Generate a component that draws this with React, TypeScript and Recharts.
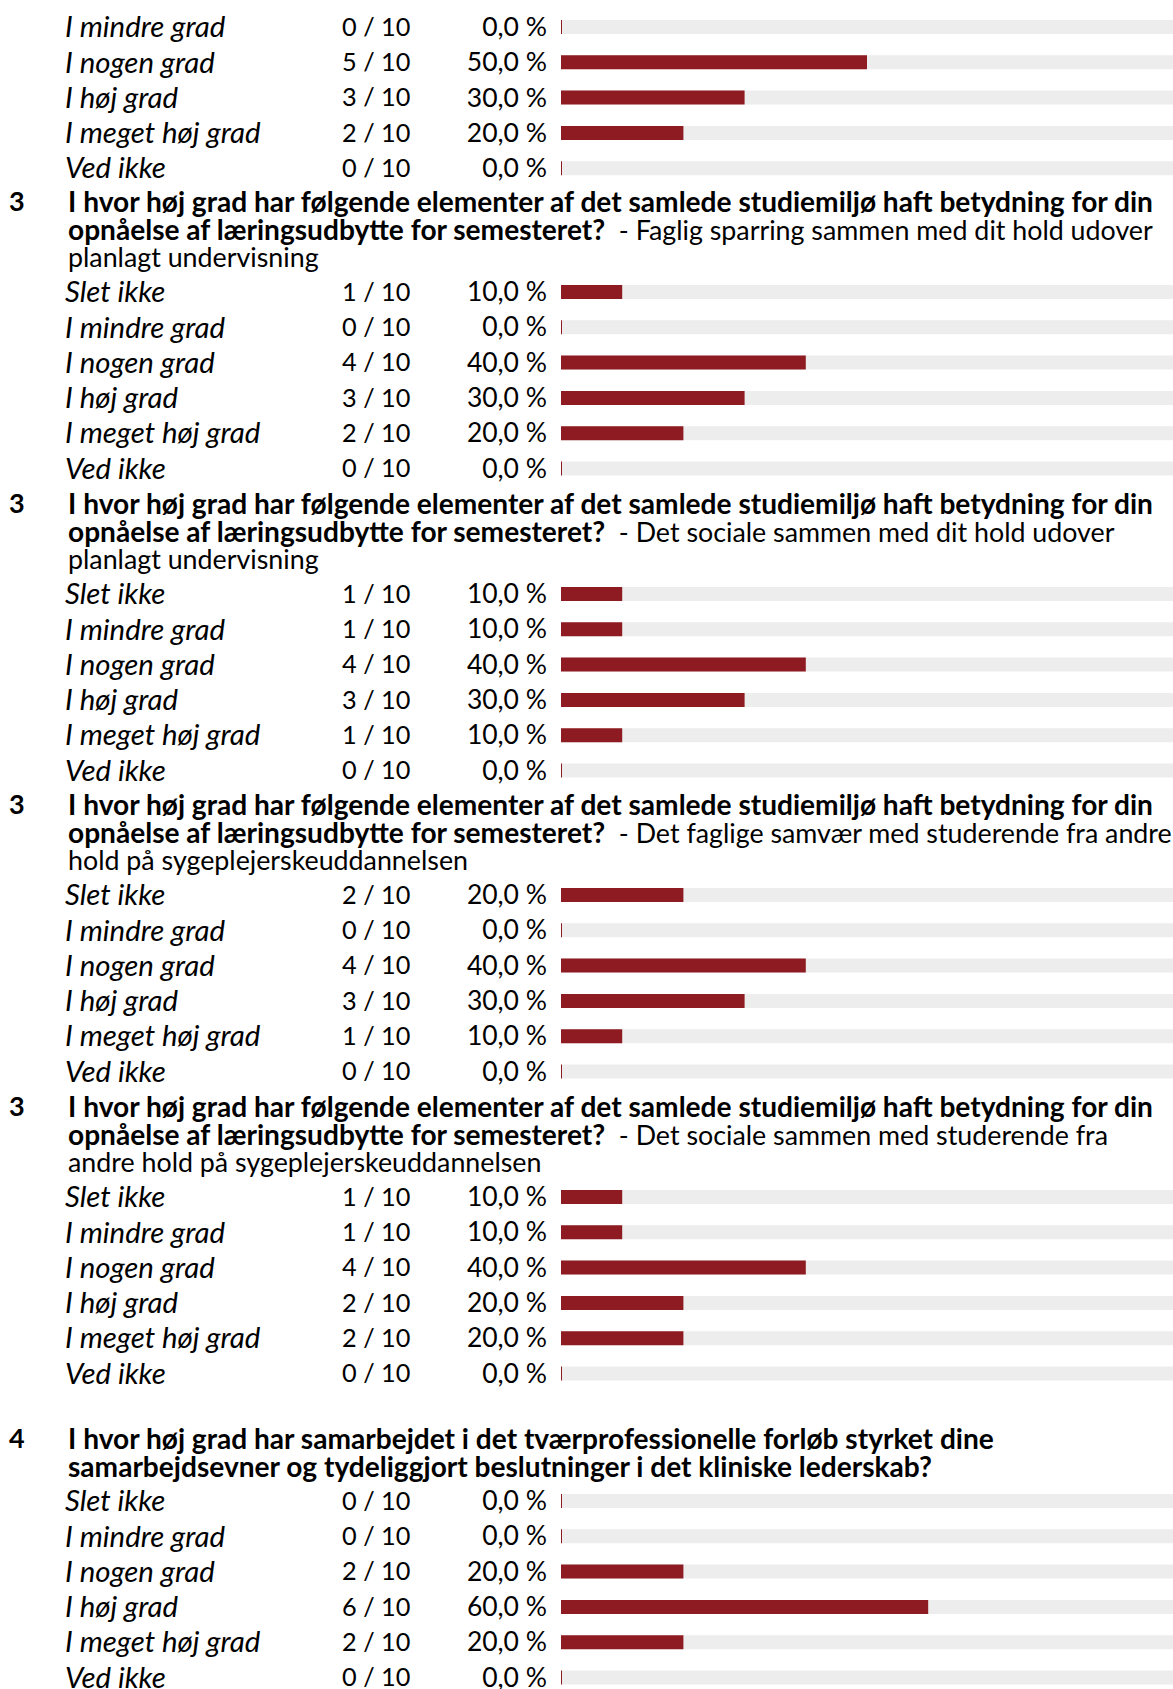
import React from 'react';
import { BarChart, Bar, XAxis, YAxis } from 'recharts';

const CATEGORIES = ['Slet ikke', 'I mindre grad', 'I nogen grad', 'I høj grad', 'I meget høj grad', 'Ved ikke'];
const TOTAL = 10;

// counts per question block (Slet ikke .. Ved ikke)
const COUNTS_PREV = [0, 0, 5, 3, 2, 0]; // first row is above the visible area
const COUNTS_FAGLIG_HOLD = [1, 0, 4, 3, 2, 0];
const COUNTS_SOCIAL_HOLD = [1, 1, 4, 3, 1, 0];
const COUNTS_FAGLIG_ANDRE = [2, 0, 4, 3, 1, 0];
const COUNTS_SOCIAL_ANDRE = [1, 1, 4, 2, 2, 0];
const COUNTS_Q4 = [0, 0, 2, 6, 2, 0];

const Q3_TITLE_L1 = 'I hvor høj grad har følgende elementer af det samlede studiemiljø haft betydning for din';
const Q3_TITLE_L2 = 'opnåelse af læringsudbytte for semesteret?';
const SUBS = [
  ['- Faglig sparring sammen med dit hold udover', 'planlagt undervisning'],
  ['- Det sociale sammen med dit hold udover', 'planlagt undervisning'],
  ['- Det faglige samvær med studerende fra andre', 'hold på sygeplejerskeuddannelsen'],
  ['- Det sociale sammen med studerende fra', 'andre hold på sygeplejerskeuddannelsen'],
];
const Q4_TITLE = [
  'I hvor høj grad har samarbejdet i det tværprofessionelle forløb styrket dine',
  'samarbejdsevner og tydeliggjort beslutninger i det kliniske lederskab?',
];

const FONT = 'Lato, "Noto Sans", sans-serif';
const RED = '#8e1b21';
const TRACK = '#ededed';
const W = 1173;
const ROW = 35.3;
const LINE = 28;

function makeRows(counts: number[], startIndex = 0) {
  return counts.slice(startIndex).map((c, i) => ({
    label: CATEGORIES[i + startIndex],
    count: c,
    pct: (c / TOTAL) * 100,
  }));
}

const RowTick = (props: any) => {
  const { y, payload, rows } = props;
  const row = rows[payload.index] || rows.find((r: any) => r.label === payload.value);
  const pctText = row.pct.toFixed(1).replace('.', ',') + ' %';
  return (
    <g>
      <text x={65} y={y} dy="0.36em" fontFamily={FONT} fontStyle="italic" fontSize={29.4} fill="#000">
        {row.label}
      </text>
      <text x={342} y={y} dy="0.36em" fontFamily={FONT} fontSize={25.3} fill="#000">
        {`${row.count} / ${TOTAL}`}
      </text>
      <text x={547} y={y} dy="0.36em" textAnchor="end" fontFamily={FONT} fontSize={26.5} fill="#000">
        {pctText}
      </text>
    </g>
  );
};

const Block = ({ rows, top }: { rows: any[]; top: number }) => (
  <div style={{ position: 'absolute', left: 0, top }}>
    <BarChart
      width={W}
      height={rows.length * ROW}
      data={rows}
      layout="vertical"
      margin={{ top: 0, right: 0, bottom: 0, left: 0 }}
    >
      <XAxis type="number" domain={[0, 100]} hide />
      <YAxis
        type="category"
        dataKey="label"
        width={561}
        axisLine={false}
        tickLine={false}
        interval={0}
        tick={(p: any) => <RowTick {...p} rows={rows} />}
      />
      <Bar
        dataKey="pct"
        fill={RED}
        barSize={14}
        minPointSize={1}
        background={{ fill: TRACK }}
        isAnimationActive={false}
      />
    </BarChart>
  </div>
);

const Heading = ({ num, lines, center }: { num: string; lines: React.ReactNode[]; center: number }) => (
  <div style={{ position: 'absolute', left: 0, top: center - LINE / 2, width: W, fontFamily: FONT, fontSize: 26.8, lineHeight: `${LINE}px`, color: '#000' }}>
    <div style={{ position: 'absolute', left: 9, top: 0, fontWeight: 700, fontSize: 27 }}>{num}</div>
    <div style={{ position: 'absolute', left: 68, top: 0, whiteSpace: 'nowrap' }}>
      {lines.map((l, i) => (
        <div key={i} style={{ height: LINE }}>{l}</div>
      ))}
    </div>
  </div>
);

const B = ({ children }: { children: React.ReactNode }) => (
  <span style={{ fontWeight: 700, fontSize: 28.1 }}>{children}</span>
);

export default function App() {
  const firstRowCenter = 27;
  const q3FirstRow = 291.9;
  const period = 301.5;
  const q4FirstRow = 1500.3;
  const blocks = [COUNTS_FAGLIG_HOLD, COUNTS_SOCIAL_HOLD, COUNTS_FAGLIG_ANDRE, COUNTS_SOCIAL_ANDRE];
  return (
    <div style={{ position: 'absolute', left: 0, top: 0, width: W, height: 1689, overflow: 'hidden', background: '#fff' }}>
      <Block rows={makeRows(COUNTS_PREV, 1)} top={firstRowCenter - ROW / 2} />
      {blocks.map((counts, k) => {
        const fr = q3FirstRow + k * period;
        return (
          <React.Fragment key={k}>
            <Heading
              num="3"
              center={fr - 90.5}
              lines={[
                <B>{Q3_TITLE_L1}</B>,
                <span><B>{Q3_TITLE_L2}</B>{'\u00a0 '}{SUBS[k][0]}</span>,
                <span>{SUBS[k][1]}</span>,
              ]}
            />
            <Block rows={makeRows(counts)} top={fr - ROW / 2} />
          </React.Fragment>
        );
      })}
      <Heading
        num="4"
        center={q4FirstRow - 62.5}
        lines={[<B>{Q4_TITLE[0]}</B>, <B>{Q4_TITLE[1]}</B>]}
      />
      <Block rows={makeRows(COUNTS_Q4)} top={q4FirstRow - ROW / 2} />
    </div>
  );
}
